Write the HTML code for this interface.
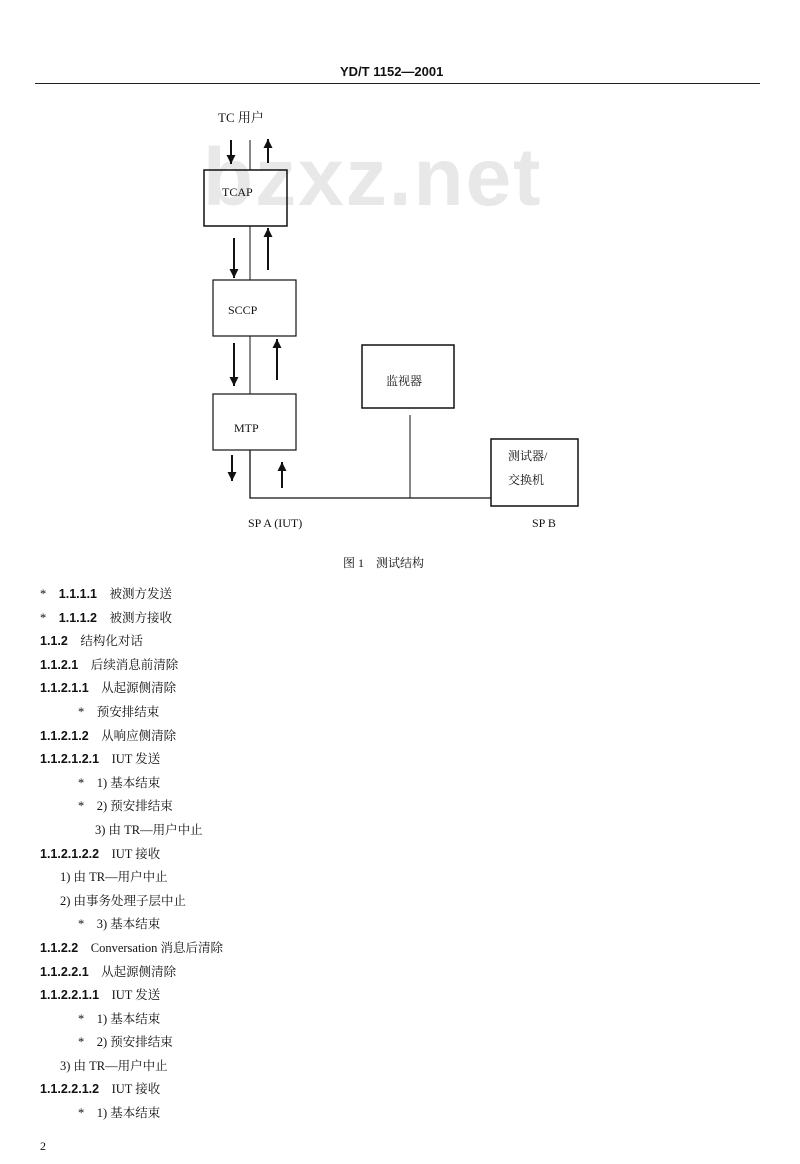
<!DOCTYPE html>
<html><head><meta charset="utf-8"><style>
body{margin:0;width:800px;height:1164px;background:#fff;position:relative;overflow:hidden;font-family:"Liberation Serif","Noto Serif CJK SC",serif;color:#111}
.t{position:absolute;white-space:nowrap;font-size:13px;line-height:16px}
.b{font-family:"Liberation Sans","Noto Sans CJK SC",sans-serif;font-weight:bold}
</style></head><body>
<div class="t b" style="left:340px;top:64px;font-size:13px">YD/T 1152—2001</div>
<div style="position:absolute;left:35px;top:83px;width:725px;height:1px;background:#222"></div>
<div class="b" style="position:absolute;left:203px;top:128px;font-size:82px;line-height:100px;color:#e8e8e8;letter-spacing:2px">bzxz.net</div>
<svg width="800" height="1164" style="position:absolute;left:0;top:0">
<defs><marker id="a" markerWidth="9" markerHeight="9" refX="9" refY="4.5" orient="auto" markerUnits="userSpaceOnUse" viewBox="0 0 9 9"><path d="M0,0 L9,4.5 L0,9z" fill="#111"/></marker></defs>
<g stroke="#111" fill="none">
<rect x="204" y="170" width="83" height="56" stroke-width="1.5"/>
<rect x="213" y="280" width="83" height="56" stroke-width="1.2"/>
<rect x="213" y="394" width="83" height="56" stroke-width="1.2"/>
<rect x="362" y="345" width="92" height="63" stroke-width="1.5"/>
<rect x="491" y="439" width="87" height="67" stroke-width="1.5"/>
<line x1="250" y1="140" x2="250" y2="170"/>
<line x1="250" y1="226" x2="250" y2="280"/>
<line x1="250" y1="336" x2="250" y2="394"/>
<polyline points="250,450 250,498 491,498" stroke-width="1.3"/>
<line x1="410" y1="415" x2="410" y2="498"/>
<g stroke-width="2">
<line x1="231" y1="140" x2="231" y2="164" marker-end="url(#a)"/>
<line x1="268" y1="163" x2="268" y2="139" marker-end="url(#a)"/>
<line x1="234" y1="238" x2="234" y2="278" marker-end="url(#a)"/>
<line x1="268" y1="270" x2="268" y2="228" marker-end="url(#a)"/>
<line x1="234" y1="343" x2="234" y2="386" marker-end="url(#a)"/>
<line x1="277" y1="380" x2="277" y2="339" marker-end="url(#a)"/>
<line x1="232" y1="455" x2="232" y2="481" marker-end="url(#a)"/>
<line x1="282" y1="488" x2="282" y2="462" marker-end="url(#a)"/>
</g></g></svg>
<div class="t" style="left:218px;top:110px">TC 用户</div>
<div class="t" style="left:222px;top:184px;font-size:12px">TCAP</div>
<div class="t" style="left:228px;top:302px;font-size:12px">SCCP</div>
<div class="t" style="left:234px;top:420px;font-size:12px">MTP</div>
<div class="t" style="left:386px;top:373px;font-size:12px">监视器</div>
<div class="t" style="left:508px;top:444px;font-size:12px;line-height:24px">测试器/<br>交换机</div>
<div class="t" style="left:248px;top:515px;font-size:12px">SP A (IUT)</div>
<div class="t" style="left:532px;top:515px;font-size:12px">SP B</div>
<div class="t" style="left:343px;top:555px;font-size:12px">图 1　测试结构</div>
<div class="t" style="left:40px;top:583px;font-size:12.5px;line-height:23.6px">
<div>*　<b class="b">1.1.1.1</b>　被测方发送</div>
<div>*　<b class="b">1.1.1.2</b>　被测方接收</div>
<div><b class="b">1.1.2</b>　结构化对话</div>
<div><b class="b">1.1.2.1</b>　后续消息前清除</div>
<div><b class="b">1.1.2.1.1</b>　从起源侧清除</div>
<div style="padding-left:38px">*　预安排结束</div>
<div><b class="b">1.1.2.1.2</b>　从响应侧清除</div>
<div><b class="b">1.1.2.1.2.1</b>　IUT 发送</div>
<div style="padding-left:38px">*　1) 基本结束</div>
<div style="padding-left:38px">*　2) 预安排结束</div>
<div style="padding-left:55px">3) 由 TR—用户中止</div>
<div><b class="b">1.1.2.1.2.2</b>　IUT 接收</div>
<div style="padding-left:20px">1) 由 TR—用户中止</div>
<div style="padding-left:20px">2) 由事务处理子层中止</div>
<div style="padding-left:38px">*　3) 基本结束</div>
<div><b class="b">1.1.2.2</b>　Conversation 消息后清除</div>
<div><b class="b">1.1.2.2.1</b>　从起源侧清除</div>
<div><b class="b">1.1.2.2.1.1</b>　IUT 发送</div>
<div style="padding-left:38px">*　1) 基本结束</div>
<div style="padding-left:38px">*　2) 预安排结束</div>
<div style="padding-left:20px">3) 由 TR—用户中止</div>
<div><b class="b">1.1.2.2.1.2</b>　IUT 接收</div>
<div style="padding-left:38px">*　1) 基本结束</div>
</div>
<div class="t" style="left:40px;top:1138px;font-size:12px">2</div>
</body></html>
